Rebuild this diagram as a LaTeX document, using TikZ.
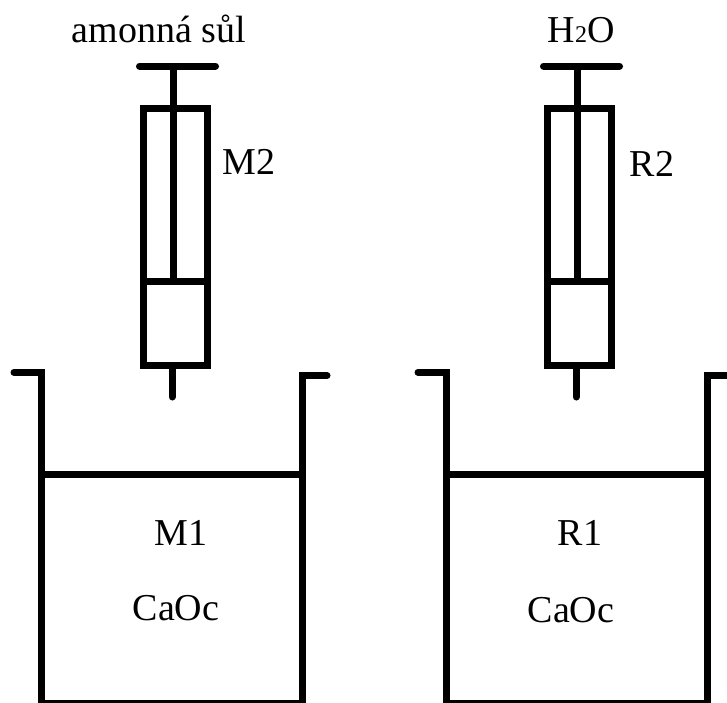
\documentclass[tikz,border=0pt]{standalone}
\usepackage{fontspec}
\setmainfont{Liberation Serif}
\begin{document}
\begin{tikzpicture}[x=1pt,y=-1pt,
  ln/.style={line width=7pt,line cap=round,line join=miter,black},
  lnb/.style={line width=7pt,line cap=butt,line join=miter,black},
  lbl/.style={inner sep=0pt,font=\fontsize{38}{38}\selectfont,text=black}]
\useasboundingbox (0,0) rectangle (727,702);
% left
\draw[ln] (139.5,66)--(215.5,66);
\draw[lnb] (173.5,66)--(173.5,281);
\draw[lnb] (143.5,108) rectangle (207,365);
\draw[lnb] (143.5,281)--(207,281);
\draw[ln] (172,369)--(172,397);
\draw[ln] (14,372.3)--(41.5,372.3)--(41.5,703.5)--(302,703.5)--(302,375.5)--(327,375.5);
\draw[lnb] (41.5,474)--(302,474);
% right
\draw[ln] (543.5,66)--(619.5,66);
\draw[lnb] (577.5,66)--(577.5,281);
\draw[lnb] (547.5,108) rectangle (611,365);
\draw[lnb] (547.5,281)--(611,281);
\draw[ln] (576,369)--(576,397);
\draw[ln] (418,372.3)--(446,372.3)--(446,703.5)--(707,703.5)--(707,375.5)--(730,375.5);
\draw[lnb] (446,474)--(707,474);
\node[lbl] (t1) at (159,29) {amonná sůl};
\node[lbl] (t2) at (581,30) {H\raisebox{0pt}{\fontsize{24}{24}\selectfont 2}O};
\node[lbl] (m2) at (249,162) {M2};
\node[lbl] (r2) at (652,164) {R2};
\node[lbl] (m1) at (181,533) {M1};
\node[lbl] (c1) at (176,608) {CaOc};
\node[lbl] (r1) at (580,533) {R1};
\node[lbl] (c2) at (571,610) {CaOc};
\end{tikzpicture}
\end{document}
